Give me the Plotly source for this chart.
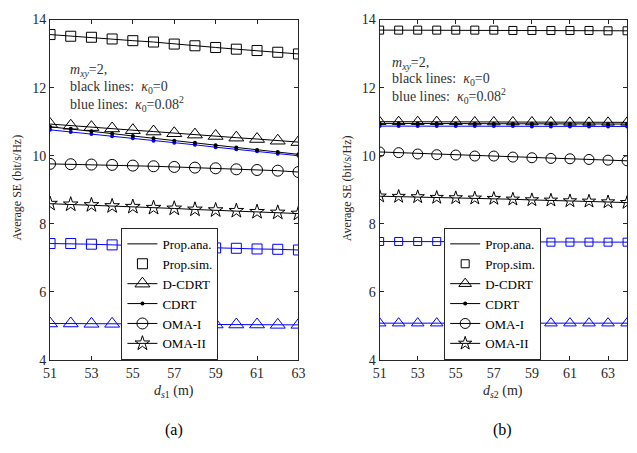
import plotly.graph_objects as go

# ---------------- data ----------------
x_a = [51, 52, 53, 54, 55, 56, 57, 58, 59, 60, 61, 62, 63]
x_b = [51, 52, 53, 54, 55, 56, 57, 58, 59, 60, 61, 62, 63, 64]

# (a) black lines: kappa0 = 0
prop_k0_a = [13.56, 13.51, 13.48, 13.43, 13.38, 13.34, 13.28, 13.23, 13.18, 13.13, 13.09, 13.04, 12.99]
dcdrt_k0_a = [10.93, 10.88, 10.84, 10.80, 10.75, 10.71, 10.66, 10.62, 10.58, 10.53, 10.49, 10.44, 10.40]
cdrt_k0_a = [10.85, 10.79, 10.72, 10.65, 10.58, 10.51, 10.44, 10.38, 10.31, 10.24, 10.17, 10.11, 10.04]
oma1_k0_a = [9.76, 9.75, 9.74, 9.73, 9.71, 9.69, 9.67, 9.65, 9.63, 9.60, 9.58, 9.56, 9.52]
oma2_k0_a = [8.59, 8.57, 8.55, 8.52, 8.50, 8.47, 8.45, 8.42, 8.40, 8.38, 8.35, 8.33, 8.30]
# (a) blue lines: kappa0 = 0.08^2
prop_k1_a = [7.42, 7.42, 7.40, 7.38, 7.36, 7.34, 7.33, 7.31, 7.29, 7.28, 7.26, 7.25, 7.23]
dcdrt_k1_a = [5.07, 5.07, 5.06, 5.06, 5.06, 5.05, 5.05, 5.05, 5.04, 5.04, 5.04, 5.03, 5.03]
cdrt_k1_a = [10.76, 10.70, 10.64, 10.57, 10.51, 10.44, 10.38, 10.32, 10.25, 10.19, 10.13, 10.06, 10.00]

# (b) black lines
prop_k0_b = [13.69, 13.69, 13.69, 13.69, 13.69, 13.69, 13.69, 13.68, 13.68, 13.68, 13.68, 13.68, 13.67, 13.67]
dcdrt_k0_b = [11.00, 11.00, 11.00, 11.00, 11.00, 10.99, 10.99, 10.99, 10.99, 10.99, 10.98, 10.98, 10.98, 10.98]
cdrt_k0_b = [10.95, 10.95, 10.95, 10.95, 10.94, 10.94, 10.94, 10.94, 10.94, 10.94, 10.93, 10.93, 10.93, 10.93]
oma1_k0_b = [10.11, 10.09, 10.05, 10.03, 10.02, 9.99, 9.99, 9.96, 9.94, 9.92, 9.91, 9.89, 9.87, 9.85]
oma2_k0_b = [8.81, 8.80, 8.79, 8.77, 8.76, 8.75, 8.74, 8.72, 8.70, 8.69, 8.67, 8.66, 8.64, 8.62]
# (b) blue lines
prop_k1_b = [7.48, 7.48, 7.48, 7.48, 7.47, 7.47, 7.47, 7.47, 7.46, 7.46, 7.46, 7.46, 7.46, 7.46]
dcdrt_k1_b = [5.08, 5.08, 5.08, 5.08, 5.08, 5.08, 5.08, 5.08, 5.08, 5.08, 5.08, 5.08, 5.08, 5.08]
cdrt_k1_b = [10.87, 10.87, 10.87, 10.87, 10.87, 10.87, 10.87, 10.87, 10.86, 10.86, 10.86, 10.86, 10.86, 10.86]

legend_names = ["Prop.ana.", "Prop.sim.", "D-CDRT", "CDRT", "OMA-I", "OMA-II"]
y_ticks = [4, 6, 8, 10, 12, 14]
x_ticks = [51, 53, 55, 57, 59, 61, 63]

FONT = "Times New Roman, Liberation Serif, serif"
BLACK = "#000000"
BLUE = "#0000ff"

fig = go.Figure()


def add_panel(x, xa, ya, leg, data_k0, data_k1, msz):
    prop0, dc0, cd0, o1, o2 = data_k0
    prop1, dc1, cd1 = data_k1
    sq, tri, cir, star = msz
    # blue lines first
    fig.add_trace(go.Scatter(x=x, y=prop1, mode="lines+markers", xaxis=xa, yaxis=ya, showlegend=False,
                             line=dict(color=BLUE, width=1),
                             marker=dict(symbol="square-open", size=sq, color=BLUE, line=dict(width=1))))
    fig.add_trace(go.Scatter(x=x, y=dc1, mode="lines+markers", xaxis=xa, yaxis=ya, showlegend=False,
                             line=dict(color=BLUE, width=1),
                             marker=dict(symbol="triangle-up-open", size=tri, color=BLUE, line=dict(width=1))))
    fig.add_trace(go.Scatter(x=x, y=cd1, mode="lines+markers", xaxis=xa, yaxis=ya, showlegend=False,
                             line=dict(color=BLUE, width=1),
                             marker=dict(symbol="circle", size=4, color=BLUE)))
    # black lines (legend)
    fig.add_trace(go.Scatter(x=x, y=prop0, mode="lines", xaxis=xa, yaxis=ya, name=legend_names[0],
                             legend=leg, line=dict(color=BLACK, width=1)))
    fig.add_trace(go.Scatter(x=x, y=prop0, mode="markers", xaxis=xa, yaxis=ya, name=legend_names[1],
                             legend=leg,
                             marker=dict(symbol="square-open", size=sq, color=BLACK, line=dict(width=1))))
    fig.add_trace(go.Scatter(x=x, y=dc0, mode="lines+markers", xaxis=xa, yaxis=ya, name=legend_names[2],
                             legend=leg, line=dict(color=BLACK, width=1),
                             marker=dict(symbol="triangle-up-open", size=tri, color=BLACK, line=dict(width=1))))
    fig.add_trace(go.Scatter(x=x, y=cd0, mode="lines+markers", xaxis=xa, yaxis=ya, name=legend_names[3],
                             legend=leg, line=dict(color=BLACK, width=1),
                             marker=dict(symbol="circle", size=4, color=BLACK)))
    fig.add_trace(go.Scatter(x=x, y=o1, mode="lines+markers", xaxis=xa, yaxis=ya, name=legend_names[4],
                             legend=leg, line=dict(color=BLACK, width=1),
                             marker=dict(symbol="circle-open", size=cir, color=BLACK, line=dict(width=1))))
    fig.add_trace(go.Scatter(x=x, y=o2, mode="lines+markers", xaxis=xa, yaxis=ya, name=legend_names[5],
                             legend=leg, line=dict(color=BLACK, width=1),
                             marker=dict(symbol="star-open", size=star, color=BLACK, line=dict(width=1))))


add_panel(x_a, "x", "y", "legend",
          (prop_k0_a, dcdrt_k0_a, cdrt_k0_a, oma1_k0_a, oma2_k0_a),
          (prop_k1_a, dcdrt_k1_a, cdrt_k1_a), (10, 13, 11, 11))
add_panel(x_b, "x2", "y2", "legend2",
          (prop_k0_b, dcdrt_k0_b, cdrt_k0_b, oma1_k0_b, oma2_k0_b),
          (prop_k1_b, dcdrt_k1_b, cdrt_k1_b), (8, 11, 10, 10))

W, H = 637, 453
yd = [(H - 365) / H, (H - 13) / H]

axis_common = dict(showline=True, linecolor="#262626", linewidth=1, mirror="ticks",
                   ticks="inside", ticklen=4, tickcolor="#262626", showgrid=False, zeroline=False,
                   tickfont=dict(family=FONT, size=14, color="#262626"))

leg_common = dict(yanchor="bottom", y=(H - 365) / H, xanchor="left",
                  bgcolor="white", bordercolor="#262626", borderwidth=1,
                  font=dict(family=FONT, size=13, color="#000000"), tracegroupgap=0)

fig.update_layout(
    width=W, height=H,
    margin=dict(l=0, r=0, t=0, b=0),
    paper_bgcolor="white", plot_bgcolor="white",
    font=dict(family=FONT, size=13, color="#262626"),
    xaxis=dict(domain=[44 / W, 298 / W], range=[51, 63], tickvals=x_ticks, anchor="y", **axis_common),
    yaxis=dict(domain=yd, range=[4, 14], tickvals=y_ticks, anchor="x", **axis_common),
    xaxis2=dict(domain=[381 / W, 634 / W], range=[51, 64], tickvals=x_ticks, anchor="y2", **axis_common),
    yaxis2=dict(domain=yd, range=[4, 14], tickvals=y_ticks, anchor="x2", **axis_common),
    legend=dict(x=117 / W, **leg_common),
    legend2=dict(x=447 / W, **leg_common),
)

ann_font = dict(family=FONT, size=14, color="#333333")
notes = ["<i>m</i><sub><i>xy</i></sub>=2,",
         "black lines:  <i>κ</i><sub>0</sub>=0",
         "blue lines:  <i>κ</i><sub>0</sub>=0.08<sup>2</sup>"]
for xl, ys in [(62, [66, 83, 100]), (392, [58, 75, 92])]:
    for t, yy in zip(notes, ys):
        fig.add_annotation(x=xl / W, y=(H - yy) / H, xref="paper", yref="paper", text=t,
                           showarrow=False, xanchor="left", yanchor="middle", font=ann_font)

# axis titles and sub-captions
for xc, sub, cap in [(171, "1", "(a)"), (507, "2", "(b)")]:
    fig.add_annotation(x=xc / W, y=(H - 398) / H, xref="paper", yref="paper",
                       text="<i>d</i><sub><i>s</i>" + sub + "</sub> (m)", showarrow=False,
                       xanchor="center", yanchor="middle", font=dict(family=FONT, size=14, color="#262626"))
    fig.add_annotation(x=xc / W, y=(H - 437) / H, xref="paper", yref="paper", text=cap,
                       showarrow=False, xanchor="center", yanchor="middle",
                       font=dict(family=FONT, size=16, color="#000000"))
for xc in [10, 347]:
    fig.add_annotation(x=xc / W, y=(H - 187) / H, xref="paper", yref="paper",
                       text="Average SE (bit/s/Hz)", textangle=-90, showarrow=False,
                       xanchor="center", yanchor="middle", font=dict(family=FONT, size=12, color="#262626"))

fig.write_html("out.html")
